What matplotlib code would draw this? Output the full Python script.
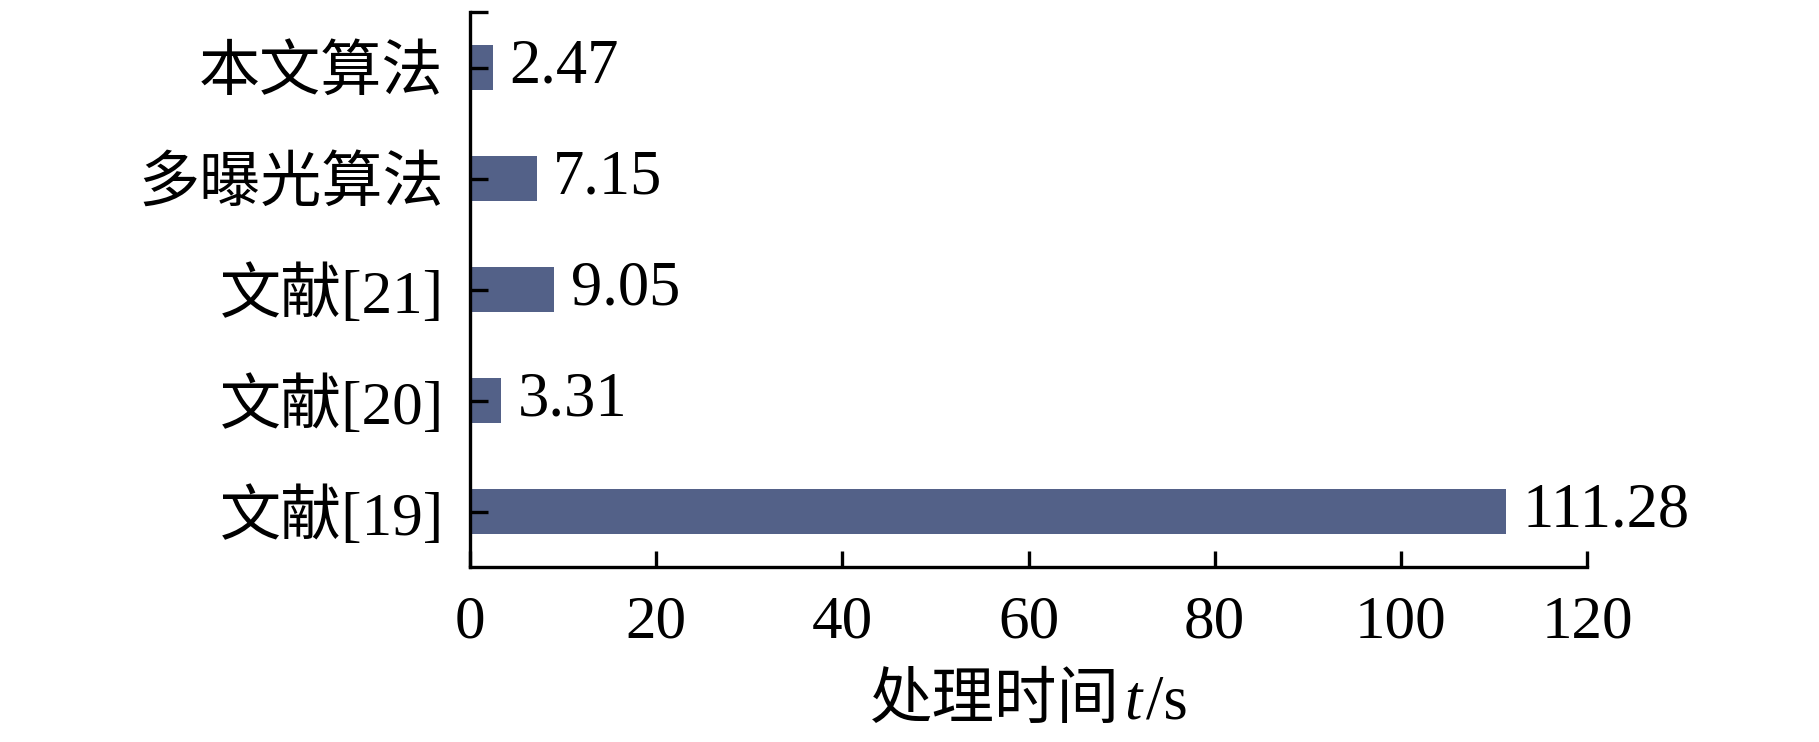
import numpy as np
import matplotlib.pyplot as plt
from matplotlib.offsetbox import TextArea, HPacker, AnchoredOffsetbox

# processing time for each method (s), top to bottom as in the figure
methods = ['本文算法', '多曝光算法', '文献[21]', '文献[20]', '文献[19]']
times = [2.47, 7.15, 9.05, 3.31, 111.28]
x_ticks = [0, 20, 40, 60, 80, 100, 120]

fonts = ['Liberation Serif', 'Noto Sans CJK SC']
plt.rcParams['font.family'] = fonts
plt.rcParams['font.size'] = 44

fig = plt.figure(figsize=(18.19, 7.42), dpi=100)
ax = fig.add_axes([0.2584, 0.2358, 0.6141, 0.748])

ypos = np.arange(len(methods))[::-1]
ax.barh(ypos, times, height=0.4, color='#536188')

for y, v in zip(ypos, times):
    ax.annotate(f'{v:.2f}', (v, y), xytext=(12, 0), textcoords='offset points',
                ha='left', va='center', fontsize=45)

ax.set_xlim(0, 120)
ax.set_ylim(-0.5, 4.5)
ax.set_xticks(x_ticks)
ax.set_yticks(ypos)
ax.set_yticklabels(methods)
# small cap at the top of the category axis
ax.set_yticks([4.5], minor=True)

for s in ['top', 'right']:
    ax.spines[s].set_visible(False)
for s in ['left', 'bottom']:
    ax.spines[s].set_linewidth(2.4)

ax.tick_params(axis='x', direction='in', length=11.5, width=2.4, pad=20)
ax.tick_params(axis='y', which='both', direction='in', length=13, width=2.4, pad=19)

# x label: CJK text + italic t, built from pieces (mathtext has no CJK fallback)
parts = [TextArea('处理时间', textprops=dict(family=fonts, fontsize=45)),
         TextArea('t', textprops=dict(family=fonts, fontsize=45, style='italic')),
         TextArea('/s', textprops=dict(family=fonts, fontsize=45))]
label = HPacker(children=parts, align='baseline', pad=0, sep=3)
box = AnchoredOffsetbox(loc='center', child=label, pad=0, borderpad=0, frameon=False,
                        bbox_to_anchor=(0.5, -0.245), bbox_transform=ax.transAxes)
ax.add_artist(box)

plt.savefig('out.png', dpi=100)
